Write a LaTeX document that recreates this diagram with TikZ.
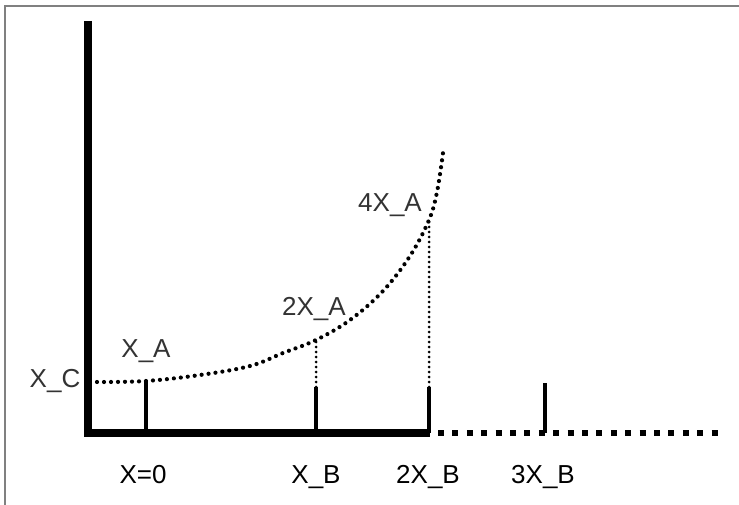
\documentclass[tikz,border=0pt]{standalone}
\usepackage{fontspec}
\setmainfont{Liberation Sans}
\begin{document}
\begin{tikzpicture}[x=1pt,y=-1pt,
  frame/.style={draw=black!50,line width=2.5pt},
  axis/.style={line width=7.5pt},
  axisext/.style={line width=6pt,dash pattern=on 6pt off 8.4pt},
  tick/.style={line width=3.2pt},
  vdots/.style={line width=3pt,line cap=round,dash pattern=on 0pt off 5pt},
  curvedots/.style={line width=4.2pt,line cap=round,dash pattern=on 0pt off 7pt},
  uplabel/.style={inner sep=0pt,anchor=base,font=\fontsize{26}{26}\selectfont,text=black!80},
  botlabel/.style={inner sep=0pt,anchor=base,font=\fontsize{26}{26}\selectfont,text=black}]
\useasboundingbox (0,0) rectangle (739,505);
\fill[white] (0,0) rectangle (739,505);
% frame
\coordinate (fl) at (5,505);
\coordinate (fc) at (5,6);
\coordinate (fr) at (739,6);
\draw[frame] (fl) -- (fc) -- (fr);
% axes
\coordinate (top) at (88,21);
\coordinate (O) at (88,433);
\coordinate (E) at (430,433);
\coordinate (Es) at (438,433);
\coordinate (Ee) at (722,433);
\draw[axis] (top) -- (O) -- (E);
\draw[axisext] (Es) -- (Ee);
% ticks
\coordinate (t0b) at (146,433); \coordinate (t0t) at (146,382);
\coordinate (t1b) at (316,433); \coordinate (t1t) at (316,387);
\coordinate (t2b) at (429,433); \coordinate (t2t) at (429,387);
\coordinate (t3b) at (545,433); \coordinate (t3t) at (545,383);
\draw[tick] (t0b) -- (t0t);
\draw[tick] (t1b) -- (t1t);
\draw[tick] (t2b) -- (t2t);
\draw[tick] (t3b) -- (t3t);
% dotted verticals
\coordinate (v1) at (316,340);
\coordinate (v2) at (429,218);
\draw[vdots] (t1t) -- (v1);
\draw[vdots] (t2t) -- (v2);
% curve
\draw[curvedots] plot[smooth,tension=0.6] coordinates {(97,382) (146,381) (200,375) (250,366) (283,353) (316,340) (350,320) (383,291) (410,256) (429,220) (437,192) (443,153)};
% labels
\node[uplabel] (xc) at (55,387) {X\_C};
\node[uplabel] (xa) at (146,357) {X\_A};
\node[uplabel] (x2a) at (314,315) {2X\_A};
\node[uplabel] (x4a) at (390,212) {4X\_A};
\node[botlabel] (x0) at (143,483) {X=0};
\node[botlabel] (xb) at (316,483) {X\_B};
\node[botlabel] (x2b) at (428,483) {2X\_B};
\node[botlabel] (x3b) at (543,483) {3X\_B};
\end{tikzpicture}
\end{document}
